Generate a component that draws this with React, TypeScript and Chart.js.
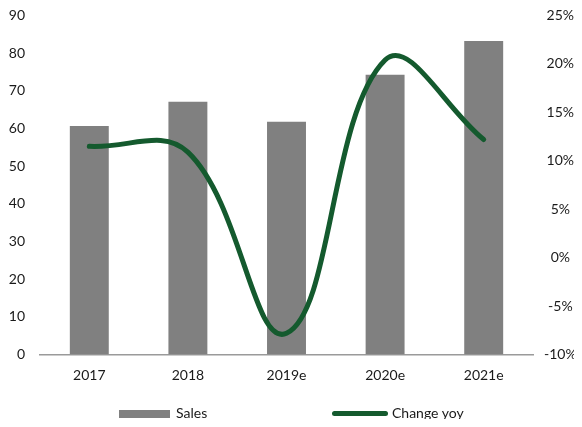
import React, { useEffect, useRef } from "react";
import { Chart, registerables } from "chart.js";

Chart.register(...registerables);

const categories = ["2017", "2018", "2019e", "2020e", "2021e"];
const salesValues = [60.7, 67.1, 61.8, 74.3, 83.2];
const changeYoy = [11.5, 10.9, -7.8, 20.4, 12.2];
const leftTicks = { min: 0, max: 90, step: 10 };
const rightTicks = { min: -10, max: 25, step: 5 };
const seriesNames = ["Sales", "Change yoy"];

const BAR_COLOR = "#808080";
const LINE_COLOR = "#145A2E";
const FONT = "Lato, 'Open Sans', sans-serif";
const TEXT_COLOR = "#1a1a1a";

const W = 566;
const H = 411;

export default function App() {
  const canvasRef = useRef<HTMLCanvasElement | null>(null);

  useEffect(() => {
    if (!canvasRef.current) return;
    const chart = new Chart(canvasRef.current, {
      type: "bar",
      data: {
        labels: categories,
        datasets: [
          {
            type: "line",
            label: seriesNames[1],
            data: changeYoy,
            yAxisID: "y1",
            borderColor: LINE_COLOR,
            backgroundColor: LINE_COLOR,
            borderWidth: 5,
            pointRadius: 0,
            pointHoverRadius: 0,
            tension: 0.4,
            borderCapStyle: "round",
            borderJoinStyle: "round",
            order: 0,
          } as any,
          {
            type: "bar",
            label: seriesNames[0],
            data: salesValues,
            yAxisID: "y",
            backgroundColor: BAR_COLOR,
            borderWidth: 0,
            categoryPercentage: 1,
            barPercentage: 0.395,
            order: 1,
          } as any,
        ],
      },
      options: {
        animation: false,
        responsive: false,
        maintainAspectRatio: false,
        layout: { padding: { top: 0, left: 0, right: 0, bottom: 23 } },
        plugins: {
          legend: { display: false },
          tooltip: { enabled: false },
        },
        scales: {
          x: {
            grid: { display: false, drawTicks: false },
            border: { display: true, color: "#9a9a9a", width: 1.5 },
            ticks: {
              color: TEXT_COLOR,
              font: { family: FONT, size: 14, lineHeight: 1.1 },
              padding: 13,
            },
          },
          y: {
            position: "left",
            min: leftTicks.min,
            max: leftTicks.max,
            grid: { display: false, drawTicks: false },
            border: { display: false },
            ticks: {
              stepSize: leftTicks.step,
              color: TEXT_COLOR,
              font: { family: FONT, size: 14, lineHeight: 1.1 },
              padding: 15,
            },
            afterFit: (scale: any) => {
              scale.width = 32;
              scale.paddingTop = 7.5;
              scale.paddingBottom = 0;
            },
          },
          y1: {
            position: "right",
            min: rightTicks.min,
            max: rightTicks.max,
            grid: { display: false, drawTicks: false },
            border: { display: false },
            ticks: {
              stepSize: rightTicks.step,
              color: TEXT_COLOR,
              font: { family: FONT, size: 14, lineHeight: 1.1 },
              padding: 11,
              crossAlign: "center",
              callback: (v: any) => `${v}%`,
            },
            afterFit: (scale: any) => {
              scale.width = 41;
              scale.paddingTop = 7.5;
              scale.paddingBottom = 0;
            },
          },
        },
      },
    });
    return () => chart.destroy();
  }, []);

  const legendText: React.CSSProperties = {
    position: "absolute",
    top: 396,
    fontFamily: FONT,
    fontSize: 14,
    lineHeight: "18px",
    color: TEXT_COLOR,
    whiteSpace: "nowrap",
  };

  return (
    <div style={{ position: "relative", width: W, height: H }}>
      <canvas
        ref={canvasRef}
        width={W}
        height={H}
        style={{ position: "absolute", left: 0, top: 0, width: W, height: H, display: "block" }}
      />
      <div
        style={{
          position: "absolute",
          left: 111,
          top: 401.5,
          width: 51,
          height: 8,
          background: BAR_COLOR,
        }}
      />
      <span style={{ ...legendText, left: 168 }}>{seriesNames[0]}</span>
      <div
        style={{
          position: "absolute",
          left: 324,
          top: 402.5,
          width: 56,
          height: 5,
          borderRadius: 3,
          background: LINE_COLOR,
        }}
      />
      <span style={{ ...legendText, left: 384 }}>{seriesNames[1]}</span>
    </div>
  );
}
